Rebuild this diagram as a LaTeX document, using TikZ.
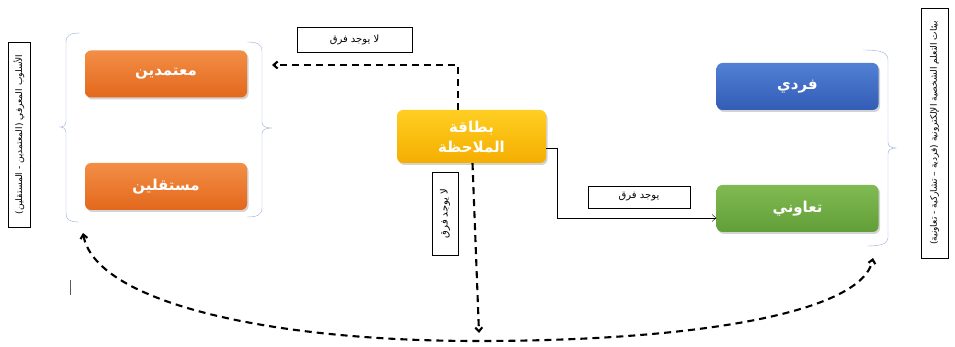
\documentclass[tikz,border=0pt]{standalone}
\usepackage{fontspec}
\newfontfamily\arabicfont[Script=Arabic]{DejaVu Sans}
\TeXXeTstate=1
\usetikzlibrary{arrows.meta,shadows,positioning}
\definecolor{braceblue}{RGB}{150,172,214}
\definecolor{orgtop}{RGB}{243,142,70}
\definecolor{orgbot}{RGB}{226,104,28}
\definecolor{blutop}{RGB}{80,128,212}
\definecolor{blubot}{RGB}{52,92,182}
\definecolor{grntop}{RGB}{128,186,82}
\definecolor{grnbot}{RGB}{98,158,56}
\definecolor{goldtop}{RGB}{255,206,34}
\definecolor{goldbot}{RGB}{244,174,0}
\tikzset{
  catbox/.style={rounded corners=6pt, minimum width=162pt, minimum height=47pt,
    text=white, font=\arabicfont\bfseries\fontsize{15}{18}\selectfont,
    drop shadow={opacity=0.35,shadow xshift=1.5pt,shadow yshift=-2pt}},
  labelbox/.style={draw, thin, fill=white, inner sep=2pt,
    font=\arabicfont\fontsize{10}{12}\selectfont},
  sidebox/.style={draw, thin, rotate=90, inner sep=2pt,
    font=\arabicfont\fontsize{9}{11}\selectfont},
  grpbrace/.style={draw=braceblue, thin},
  dasharrow/.style={line width=2.1pt, dash pattern=on 7pt off 5pt,
    -{Straight Barb[length=4pt,width=7pt]}},
}
\begin{document}
\begin{tikzpicture}[x=1pt,y=-1pt]
\useasboundingbox (0,0) rectangle (955,347);
% side titles
\node[sidebox, minimum width=185pt, minimum height=22pt] (style) at (19,134.5)
  {\beginR الأسلوب المعرفي (المعتمدين - المستقلين)\endR};
\node[sidebox, minimum width=250pt, minimum height=27pt] (env) at (934.5,133)
  {\beginR بيئات التعلم الشخصية الإلكترونية (فردية – تشاركية - تعاونية)\endR};
% category boxes
\node[catbox, top color=orgtop, bottom color=orgbot] (dep) at (166,74) {\beginR معتمدين\endR};
\node[catbox, top color=orgtop, bottom color=orgbot] (ind) at (166,186.5) {\beginR مستقلين\endR};
\node[catbox, top color=blutop, bottom color=blubot] (solo) at (797.5,86.5) {\beginR فردي\endR};
\node[catbox, top color=grntop, bottom color=grnbot] (coop) at (797.5,208.5) {\beginR تعاوني\endR};
\node[catbox, top color=goldtop, bottom color=goldbot, minimum width=149pt, minimum height=53pt,
  align=center, font=\arabicfont\bfseries\fontsize{15}{20}\selectfont] (obs) at (471.5,136.5)
  {\beginR بطاقة\endR\\\beginR الملاحظة\endR};
% braces
\draw[grpbrace] (80,33) .. controls (70,33) and (66,35) .. (66,43) -- (66,121)
  .. controls (66,125) and (64,127) .. (60,127) .. controls (64,127) and (66,129) .. (66,133)
  -- (66,213) .. controls (66,220) and (70,222) .. (79,222);
\draw[grpbrace] (247,42) .. controls (257,42) and (262,44) .. (262,51) -- (262,122)
  .. controls (262,126) and (265,128) .. (272,128) .. controls (265,128) and (262,130) .. (262,134)
  -- (262,208) .. controls (262,215) and (257,217) .. (247,217);
\draw[grpbrace] (863,50) .. controls (880,50) and (888,52) .. (888,60) -- (888,142)
  .. controls (888,146) and (890,148) .. (897,148) .. controls (890,148) and (888,150) .. (888,154)
  -- (888,238) .. controls (888,244) and (880,246) .. (867,246);
\draw[gray!70!black, thin] (70,280) -- (70,295);
% labels
\node[labelbox, minimum width=115pt, minimum height=25pt] (nodiff) at (354.5,39.5) {\beginR لا يوجد فرق\endR};
\node[labelbox, rotate=90, minimum width=83pt, minimum height=26pt] (nodiffv) at (445,213.5) {\beginR لا يوجد فرق\endR};
\node[labelbox, minimum width=102pt, minimum height=22pt] (diff) at (639,197) {\beginR يوجد فرق\endR};
% connectors
\coordinate (depin) at (272,65);
\coordinate (bottip) at (479,333);
\coordinate (lefttip) at (83,233);
\coordinate (righttip) at (873,258);
\draw[dasharrow] ([xshift=-13.5pt]obs.north) |- (depin);
\draw[dasharrow] ([xshift=1pt]obs.south) -- (bottip);
\draw[thin, -{Straight Barb[length=4pt,width=7pt]}] ([yshift=-11.5pt]obs.east) -- ++(11,0)
  |- ([yshift=-9.5pt]coop.west);
\draw[dasharrow, {Straight Barb[length=4pt,width=7pt]}-{Straight Barb[length=4pt,width=7pt]}]
  (lefttip) .. controls (95,300) and (260,341) .. (478,341)
  .. controls (700,341) and (862,312) .. (righttip);
\end{tikzpicture}
\end{document}
